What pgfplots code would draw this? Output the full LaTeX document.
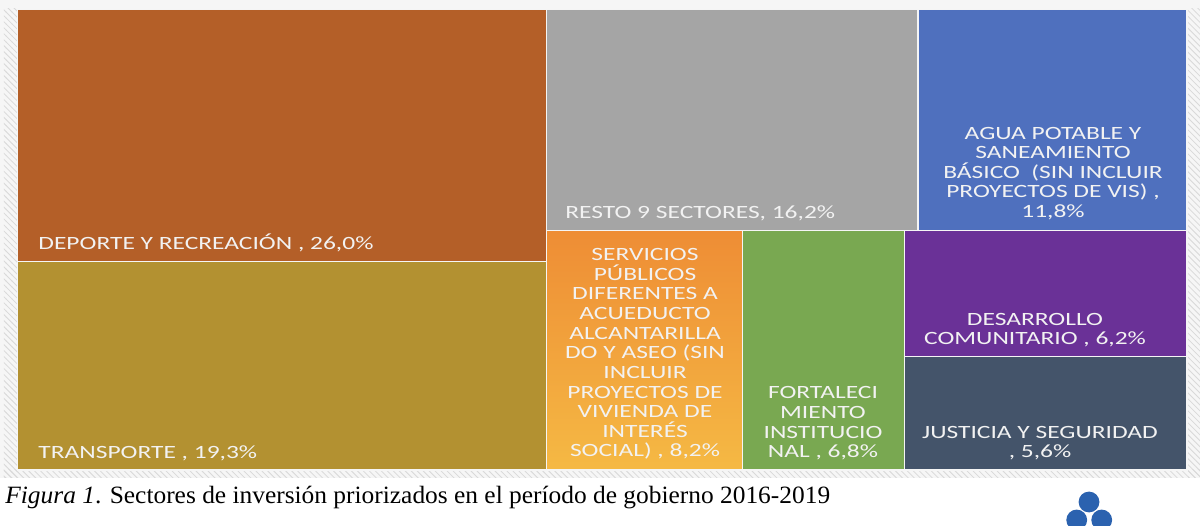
\documentclass[border=0pt]{standalone}
\usepackage{pgfplots}
\pgfplotsset{compat=1.18}
\usepackage{fontspec}
\setmainfont{Liberation Serif}
\newfontfamily\lab[FakeStretch=1.36]{Carlito}
\newfontfamily\capfont[FakeStretch=1.02]{Liberation Serif}
\usetikzlibrary{patterns}
\definecolor{cDep}{HTML}{B45F28}
\definecolor{cTra}{HTML}{B39131}
\definecolor{cRes}{HTML}{A5A5A5}
\definecolor{cAgu}{HTML}{4F70BE}
\definecolor{cSerTop}{HTML}{EE8D35}
\definecolor{cSerBot}{HTML}{F5B944}
\definecolor{cFor}{HTML}{79A851}
\definecolor{cDes}{HTML}{6A3197}
\definecolor{cJus}{HTML}{44546A}
\definecolor{cLogo}{HTML}{2B62AF}
\begin{document}
\begin{tikzpicture}
\begin{axis}[width=600bp, height=263bp, scale only axis,
  xmin=0, xmax=1200, ymin=0, ymax=526, hide axis, clip=false]
% background
\fill[white] (axis cs:0,0) rectangle (axis cs:1200,526);
\fill[gray!7] (axis cs:0,48) rectangle (axis cs:1200,526);
\fill[pattern=north west lines, pattern color=gray!30] (axis cs:4,48) rectangle (axis cs:17,517);
\fill[pattern=north west lines, pattern color=gray!30] (axis cs:1188,48) rectangle (axis cs:1200,517);
\fill[pattern=north west lines, pattern color=gray!30] (axis cs:4,48) rectangle (axis cs:1200,56);
\pgfplotsset{cell/.style={draw=white!92!gray, line width=0.7bp}}
% treemap cells (x in px, y = 526 - px)
\addplot[cell, fill=cDep] coordinates {(17.5,264.5) (546.5,264.5) (546.5,516.5) (17.5,516.5)} -- cycle;
\addplot[cell, fill=cTra] coordinates {(17.5,56) (546.5,56) (546.5,264.5) (17.5,264.5)} -- cycle;
\addplot[cell, fill=cRes] coordinates {(546.5,295.5) (918,295.5) (918,516.5) (546.5,516.5)} -- cycle;
\addplot[cell, fill=cAgu] coordinates {(918,295.5) (1187,295.5) (1187,516.5) (918,516.5)} -- cycle;
\addplot[cell, top color=cSerTop, bottom color=cSerBot] coordinates {(546.5,56) (742.5,56) (742.5,295.5) (546.5,295.5)} -- cycle;
\addplot[cell, fill=cFor] coordinates {(742.5,56) (904.5,56) (904.5,295.5) (742.5,295.5)} -- cycle;
\addplot[cell, fill=cDes] coordinates {(904.5,169.5) (1187,169.5) (1187,295.5) (904.5,295.5)} -- cycle;
\addplot[cell, fill=cJus] coordinates {(904.5,56) (1187,56) (1187,169.5) (904.5,169.5)} -- cycle;
% labels
\tikzset{lbl/.style={inner sep=0pt, text=white!95!black, font=\lab\fontsize{9.4}{9.85}\selectfont, align=center}}
\node[lbl, anchor=west] at (axis cs:38,283) {DEPORTE Y RECREACIÓN , 26,0\%};
\node[lbl, anchor=west] at (axis cs:38,73) {TRANSPORTE , 19,3\%};
\node[lbl, anchor=west] at (axis cs:565,313) {RESTO 9 SECTORES, 16,2\%};
\node[lbl] at (axis cs:1053,352.5) {AGUA POTABLE Y\\SANEAMIENTO\\BÁSICO \ (SIN INCLUIR\\PROYECTOS DE VIS) ,\\11,8\%};
\node[lbl] at (axis cs:645,172) {SERVICIOS\\PÚBLICOS\\DIFERENTES A\\ACUEDUCTO\\ALCANTARILLA\\DO Y ASEO (SIN\\INCLUIR\\PROYECTOS DE\\VIVIENDA DE\\INTERÉS\\SOCIAL) , 8,2\%};
\node[lbl] at (axis cs:823,102.5) {FORTALECI\\MIENTO\\INSTITUCIO\\NAL , 6,8\%};
\node[lbl] at (axis cs:1035,196) {DESARROLLO\\COMUNITARIO , 6,2\%};
\node[lbl] at (axis cs:1040,83) {JUSTICIA Y SEGURIDAD\\, 5,6\%};
% caption
\node[anchor=base west, inner sep=0pt, font=\capfont\fontsize{12.5}{14}\selectfont] at (axis cs:5,23) {\textit{Figura 1}. Sectores de inversión priorizados en el período de gobierno 2016-2019};
% logo
\fill[cLogo] (axis cs:1089,24) circle[radius=5.2bp];
\fill[cLogo] (axis cs:1076.7,6) circle[radius=5.2bp];
\fill[cLogo] (axis cs:1101.7,6) circle[radius=5.2bp];
\end{axis}
\pgfresetboundingbox
\path (current axis.south west) rectangle (current axis.north east);
\end{tikzpicture}
\end{document}
